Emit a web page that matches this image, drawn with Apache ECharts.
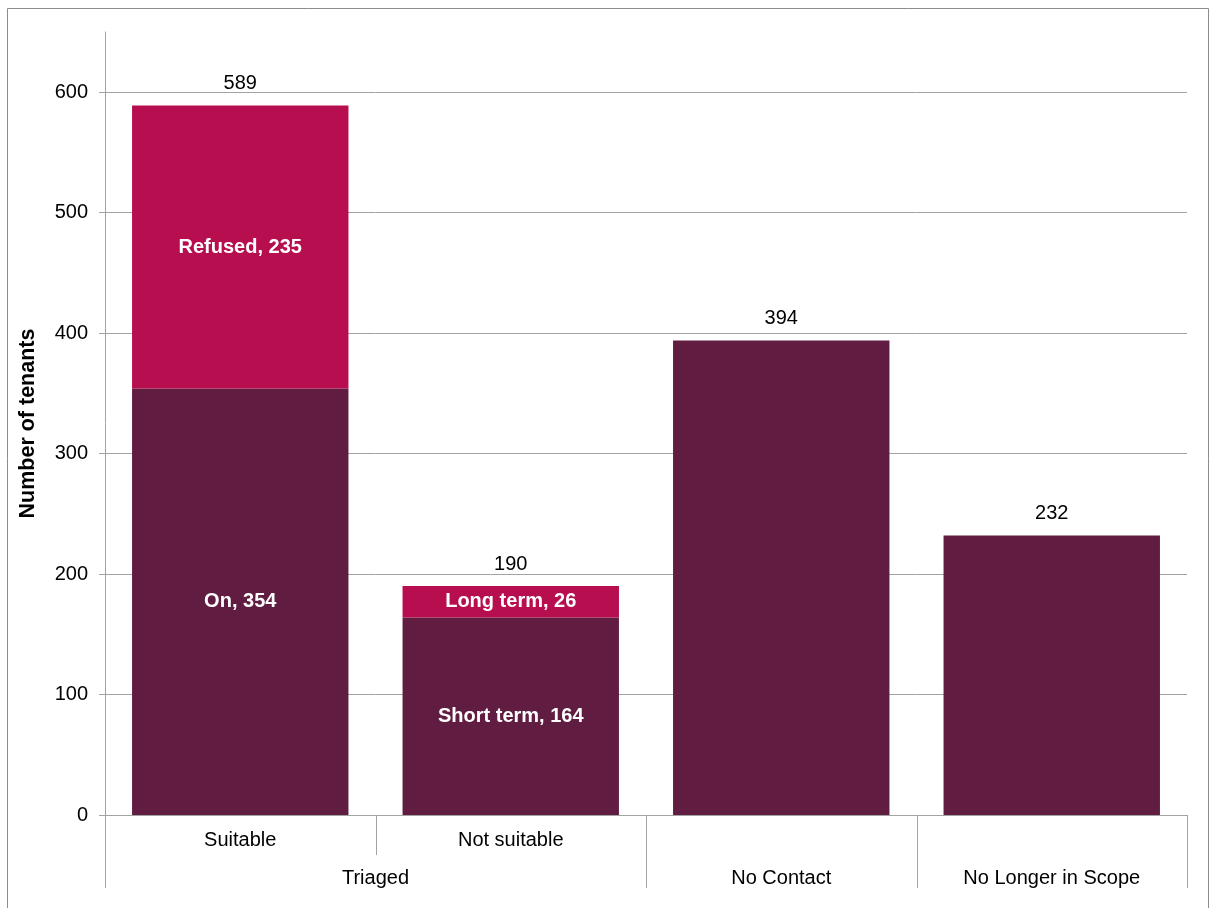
<!DOCTYPE html>
<html><head><meta charset="utf-8">
<script src="https://cdn.jsdelivr.net/npm/echarts@6/dist/echarts.min.js"></script>
<style>html,body{margin:0;padding:0;background:#fff}#c{width:1214px;height:908px}</style>
</head><body><div id="c"></div>
<script>
const categories = ['Suitable', 'Not suitable', 'No Contact', 'No Longer in Scope'];
const levelOneLabels = ['Suitable', 'Not suitable', '', ''];
const groupLabels = ['Triaged', 'No Contact', 'No Longer in Scope'];
const groupSpans = [2, 1, 1];
const baseValues = [354, 164, 394, 232];
const baseNames = ['On', 'Short term', null, null];
const topValues = [235, 26, null, null];
const topNames = ['Refused', 'Long term', null, null];
const totals = [589, 190, 394, 232];
const yTicks = [0, 100, 200, 300, 400, 500, 600];

const FONT = "'Liberation Sans', Arial, sans-serif";
const GRAY = '#a3a3a3';
const chart = echarts.init(document.getElementById('c'), null, {renderer: 'canvas'});

const option = {
  animation: false,
  backgroundColor: '#fff',
  textStyle: {fontFamily: FONT},
  grid: {left: 105, right: 27, top: 32, bottom: 93, containLabel: false},
  xAxis: {
    type: 'category',
    data: categories,
    axisLine: {show: true, lineStyle: {color: GRAY, width: 1}},
    axisTick: {show: false},
    axisLabel: {
      color: '#000', fontSize: 20, fontFamily: FONT, margin: 15,
      formatter: (v, i) => levelOneLabels[i]
    },
    splitLine: {show: false}
  },
  yAxis: {
    type: 'value',
    min: 0, max: 650, interval: 100,
    name: 'Number of tenants',
    nameLocation: 'middle',
    nameGap: 66,
    nameTextStyle: {color: '#000', fontSize: 21.5, fontWeight: 'bold', fontFamily: FONT},
    axisLine: {show: true, lineStyle: {color: GRAY, width: 1}},
    axisTick: {show: true, length: 6, customValues: yTicks, lineStyle: {color: GRAY}},
    axisLabel: {color: '#000', fontSize: 20, fontFamily: FONT, margin: 17, customValues: yTicks},
    splitLine: {show: true, lineStyle: {color: GRAY, width: 1}}
  },
  series: [
    {
      type: 'bar', name: 'base', stack: 'a', barCategoryGap: '20%',
      data: baseValues,
      itemStyle: {color: '#611C41'},
      label: {
        show: true, position: 'inside', color: '#fff', fontSize: 20, fontWeight: 'bold', fontFamily: FONT,
        formatter: p => baseNames[p.dataIndex] ? baseNames[p.dataIndex] + ', ' + p.value : ''
      }
    },
    {
      type: 'bar', name: 'top', stack: 'a', barCategoryGap: '20%',
      data: topValues,
      itemStyle: {color: '#B60E4E'},
      label: {
        show: true, position: 'inside', color: '#fff', fontSize: 20, fontWeight: 'bold', fontFamily: FONT,
        formatter: p => topNames[p.dataIndex] ? topNames[p.dataIndex] + ', ' + p.value : ''
      }
    },
    {
      type: 'scatter', name: 'total', symbolSize: 0, silent: true, z: 10,
      data: totals.map((v, i) => [i, v]),
      itemStyle: {color: '#000', opacity: 1},
      label: {
        show: true, position: 'top', distance: 12, color: '#000', opacity: 1, fontSize: 20, fontFamily: FONT,
        formatter: p => String(p.value[1])
      }
    }
  ]
};
chart.setOption(option);

const px = i => chart.convertToPixel({xAxisIndex: 0}, i);
const py = v => chart.convertToPixel({yAxisIndex: 0}, v);
const step = px(1) - px(0);
const bound = k => px(0) - step / 2 + k * step;
const y0 = py(0);
const longLen = 73, shortLen = 40;

const graphics = [];
graphics.push({
  type: 'rect', shape: {x: 7.5, y: 8.5, width: 1201, height: 910},
  style: {fill: null, stroke: '#8c8c8c', lineWidth: 1}, silent: true
});
let idx = 0;
const groupStarts = [];
groupSpans.forEach(s => { groupStarts.push(idx); idx += s; });
const groupBounds = new Set(groupStarts.concat([categories.length]));
for (let k = 0; k <= categories.length; k++) {
  const x = Math.round(bound(k)) + 0.5;
  const len = groupBounds.has(k) ? longLen : shortLen;
  graphics.push({
    type: 'line', shape: {x1: x, y1: y0, x2: x, y2: y0 + len},
    style: {stroke: GRAY, lineWidth: 1}, silent: true
  });
}
groupLabels.forEach((g, gi) => {
  const s = groupStarts[gi];
  const cx = (bound(s) + bound(s + groupSpans[gi])) / 2;
  graphics.push({
    type: 'text', x: cx, y: y0 + 63,
    style: {text: g, fill: '#000', font: '20px ' + FONT, align: 'center', verticalAlign: 'middle'},
    silent: true
  });
});
chart.setOption({graphic: graphics});
</script>
</body></html>
